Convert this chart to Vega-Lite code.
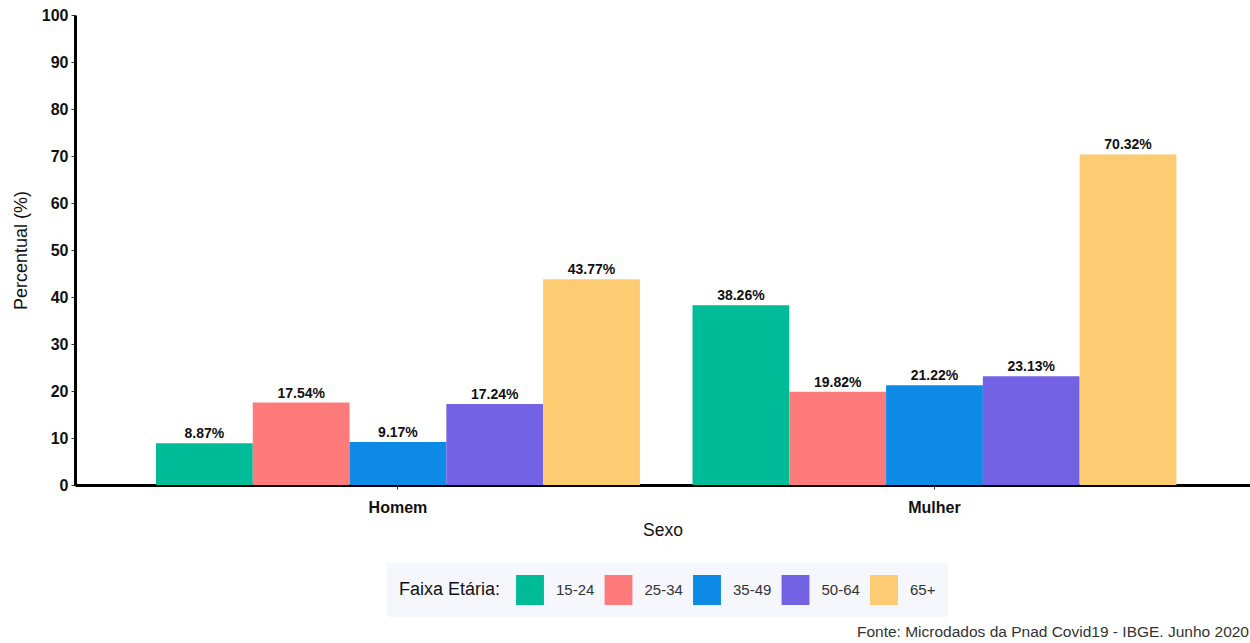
{
  "$schema": "https://vega.github.io/schema/vega-lite/v6.json",
  "width": 1175,
  "height": 470,
  "autosize": {"type": "none"},
  "padding": {"left": 75, "top": 15, "right": 0, "bottom": 158},
  "background": "white",
  "title": {
    "text": "Fonte: Microdados da Pnad Covid19 - IBGE. Junho 2020",
    "orient": "bottom",
    "anchor": "end",
    "frame": "group",
    "fontSize": 15.5,
    "fontWeight": "normal",
    "font": "Liberation Sans",
    "color": "#333333",
    "offset": 8,
    "dx": -1
  },
  "data": {
    "values": [
      {"Sexo": "Homem", "Faixa": "15-24", "Percentual": 8.87, "Rotulo": "8.87%"},
      {"Sexo": "Homem", "Faixa": "25-34", "Percentual": 17.54, "Rotulo": "17.54%"},
      {"Sexo": "Homem", "Faixa": "35-49", "Percentual": 9.17, "Rotulo": "9.17%"},
      {"Sexo": "Homem", "Faixa": "50-64", "Percentual": 17.24, "Rotulo": "17.24%"},
      {"Sexo": "Homem", "Faixa": "65+", "Percentual": 43.77, "Rotulo": "43.77%"},
      {"Sexo": "Mulher", "Faixa": "15-24", "Percentual": 38.26, "Rotulo": "38.26%"},
      {"Sexo": "Mulher", "Faixa": "25-34", "Percentual": 19.82, "Rotulo": "19.82%"},
      {"Sexo": "Mulher", "Faixa": "35-49", "Percentual": 21.22, "Rotulo": "21.22%"},
      {"Sexo": "Mulher", "Faixa": "50-64", "Percentual": 23.13, "Rotulo": "23.13%"},
      {"Sexo": "Mulher", "Faixa": "65+", "Percentual": 70.32, "Rotulo": "70.32%"}
    ]
  },
  "encoding": {
    "x": {
      "field": "Sexo",
      "type": "nominal",
      "sort": ["Homem", "Mulher"],
      "scale": {"paddingInner": 0.098, "paddingOuter": 0.144, "align": 0.524},
      "axis": {
        "title": "Sexo",
        "labelAngle": 0,
        "labelFont": "Liberation Sans",
        "labelFontSize": 16,
        "labelFontWeight": "bold",
        "labelColor": "#111111",
        "labelPadding": 10,
        "tickSize": 4,
        "tickColor": "#333333",
        "tickWidth": 1,
        "domainColor": "#000000",
        "domainWidth": 3,
        "titleFont": "Liberation Sans",
        "titleFontSize": 17.5,
        "titleFontWeight": "normal",
        "titleColor": "#111111",
        "titlePadding": 6
      }
    },
    "xOffset": {
      "field": "Faixa",
      "type": "nominal",
      "sort": ["15-24", "25-34", "35-49", "50-64", "65+"],
      "scale": {"paddingInner": 0, "paddingOuter": 0}
    },
    "y": {
      "field": "Percentual",
      "type": "quantitative",
      "scale": {"domain": [0, 100], "nice": false},
      "axis": {
        "title": "Percentual (%)",
        "values": [0, 10, 20, 30, 40, 50, 60, 70, 80, 90, 100],
        "grid": false,
        "labelFont": "Liberation Sans",
        "labelFontSize": 16,
        "labelFontWeight": "bold",
        "labelColor": "#111111",
        "labelPadding": 3,
        "tickSize": 4,
        "tickColor": "#333333",
        "tickWidth": 1,
        "domainColor": "#000000",
        "domainWidth": 3,
        "titleFont": "Liberation Sans",
        "titleFontSize": 18,
        "titleFontWeight": "normal",
        "titleColor": "#111111",
        "titlePadding": 11
      }
    }
  },
  "layer": [
    {
      "mark": {"type": "bar"},
      "encoding": {
        "color": {
          "field": "Faixa",
          "type": "nominal",
          "sort": ["15-24", "25-34", "35-49", "50-64", "65+"],
          "scale": {
            "domain": ["15-24", "25-34", "35-49", "50-64", "65+"],
            "range": ["#00BB97", "#FE7B7B", "#0C8AE5", "#7462E4", "#FDCB72"]
          },
          "legend": {
            "title": "Faixa Etária:",
            "orient": "none",
            "legendX": 312,
            "legendY": 548,
            "direction": "horizontal",
            "columns": 5,
            "titleOrient": "left",
            "titleAnchor": "middle",
            "titleBaseline": "middle",
            "titleFont": "Liberation Sans",
            "titleFontSize": 18,
            "titleFontWeight": "normal",
            "titleColor": "#111111",
            "titlePadding": 14,
            "labelFont": "Liberation Sans",
            "labelFontSize": 15,
            "labelColor": "#333333",
            "labelOffset": 11,
            "columnPadding": 8.5,
            "symbolType": "M-0.93,-1H0.93V1H-0.93Z",
            "symbolSize": 900,
            "symbolStrokeWidth": 0,
            "fillColor": "#F6F7FD",
            "padding": 12
          }
        }
      }
    },
    {
      "mark": {
        "type": "text",
        "baseline": "bottom",
        "dy": -2,
        "font": "Liberation Sans",
        "fontSize": 14,
        "fontWeight": "bold",
        "color": "#111111"
      },
      "encoding": {
        "text": {"field": "Rotulo", "type": "nominal"}
      }
    }
  ],
  "config": {
    "view": {"stroke": null}
  }
}
